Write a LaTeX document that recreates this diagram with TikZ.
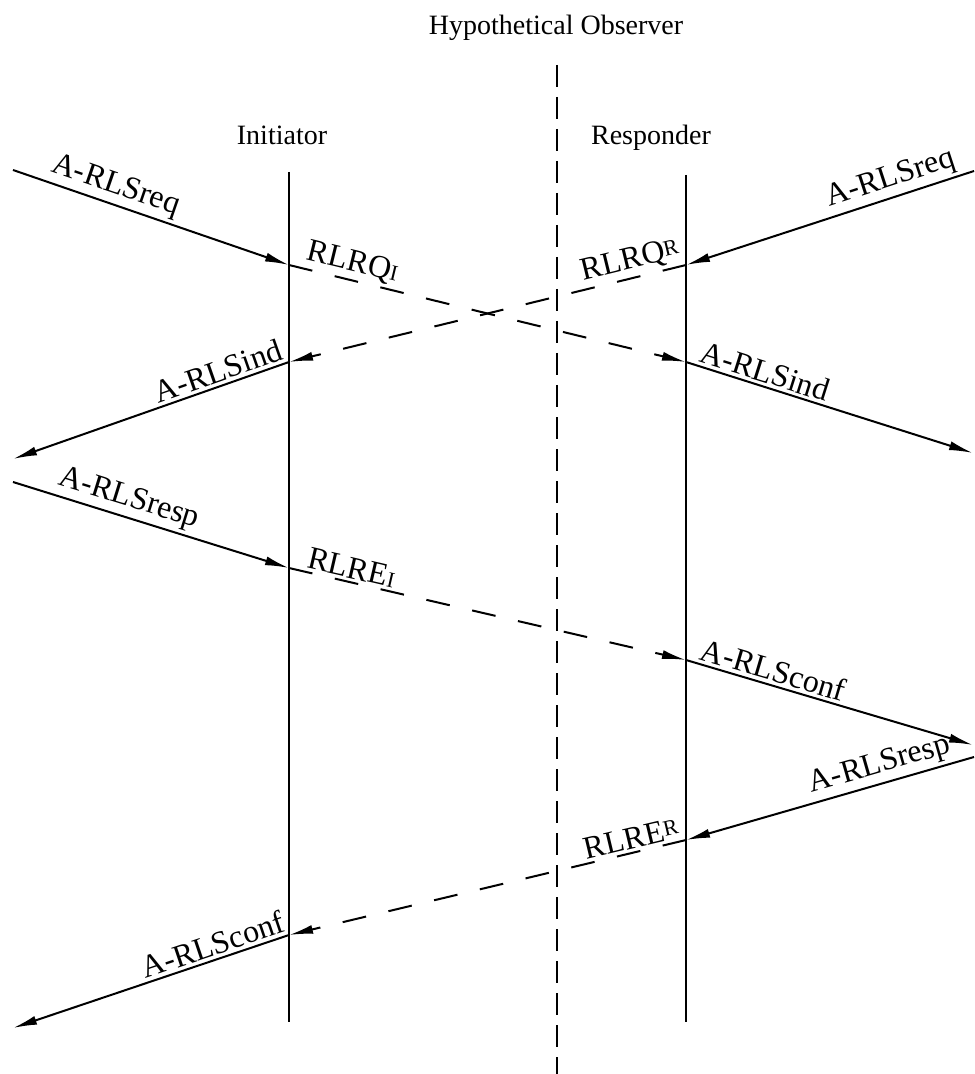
\documentclass[tikz,border=0pt]{standalone}
\usepackage{fontspec}
\setmainfont{Liberation Serif}
\usetikzlibrary{arrows.meta}

% small trailing letter of a PDU name
\newcommand{\pdulow}[1]{{\fontsize{11}{12}\selectfont #1}}
\newcommand{\pduhigh}[1]{\raisebox{0.3ex}{\fontsize{11}{12}\selectfont #1}}

\tikzset{
  hdr/.style={anchor=base, font=\fontsize{14}{16}\selectfont},
  lifeline/.style={line width=1pt},
  observer/.style={line width=1pt, dash pattern=on 11pt off 5pt},
  msg/.style={line width=1pt, -{Latex[length=12pt, width=4.5pt]}},
  pdu/.style={msg, dash pattern=on 12pt off 11.5pt},
  lbl/.style={sloped, above, inner sep=1.5pt, font=\fontsize{16}{18}\selectfont}
}

\begin{document}
\begin{tikzpicture}[x=0.5pt, y=-0.5pt]
  \useasboundingbox (0,0) rectangle (974,1074);

  % headings
  \node[hdr] (obs) at (556,35) {Hypothetical Observer};
  \node[hdr] (init) at (282,145) {Initiator};
  \node[hdr] (resp) at (651,145) {Responder};

  % lifelines
  \coordinate (iTop) at (289,172);
  \coordinate (iBot) at (289,1022);
  \coordinate (rTop) at (686,175);
  \coordinate (rBot) at (686,1022);
  \coordinate (oTop) at (557,65);
  \coordinate (oBot) at (557,1074);
  \draw[observer] (oTop) -- (oBot);
  \draw[lifeline] (iTop) -- (iBot);
  \draw[lifeline] (rTop) -- (rBot);

  % events on the lifelines
  \coordinate (i1) at (289,265);
  \coordinate (i2) at (289,362);
  \coordinate (i3) at (289,568);
  \coordinate (i4) at (289,935);
  \coordinate (r1) at (686,265);
  \coordinate (r2) at (686,362);
  \coordinate (r3) at (686,660);
  \coordinate (r4) at (686,840);

  % service users at the edges
  \coordinate (u1) at (13,170);
  \coordinate (u2) at (13,459);
  \coordinate (u3) at (13,482);
  \coordinate (u4) at (13,1028);
  \coordinate (v1) at (974,171);
  \coordinate (v2) at (973,453);
  \coordinate (v3) at (973,745);
  \coordinate (v4) at (974,757);

  % release request, both sides
  \draw[msg] (u1) -- node[lbl, pos=.35] (reqI) {A-RLSreq} (i1);
  \draw[msg] (v1) -- node[lbl, pos=.27] (reqR) {A-RLSreq} (r1);
  \draw[pdu] (i1) -- node[lbl, pos=.15] (rqI) {RLRQ\pdulow{I}} (r2);
  \draw[pdu] (r1) -- node[lbl, pos=.13] (rqR) {RLRQ\pduhigh{R}} (i2);
  \draw[msg] (i2) -- node[lbl, pos=.24] (indI) {A-RLSind} (u2);
  \draw[msg] (r2) -- node[lbl, pos=.26] (indR) {A-RLSind} (v2);

  % responses and confirmations
  \draw[msg] (u3) -- node[lbl, pos=.40] (rspI) {A-RLSresp} (i3);
  \draw[pdu] (i3) -- node[lbl, pos=.15] (reI) {RLRE\pdulow{I}} (r3);
  \draw[msg] (r3) -- node[lbl, pos=.29] (cnfR) {A-RLSconf} (v3);
  \draw[msg] (v4) -- node[lbl, pos=.31] (rspR) {A-RLSresp} (r4);
  \draw[pdu] (r4) -- node[lbl, pos=.13] (reR) {RLRE\pduhigh{R}} (i4);
  \draw[msg] (i4) -- node[lbl, pos=.26] (cnfI) {A-RLSconf} (u4);
\end{tikzpicture}
\end{document}
